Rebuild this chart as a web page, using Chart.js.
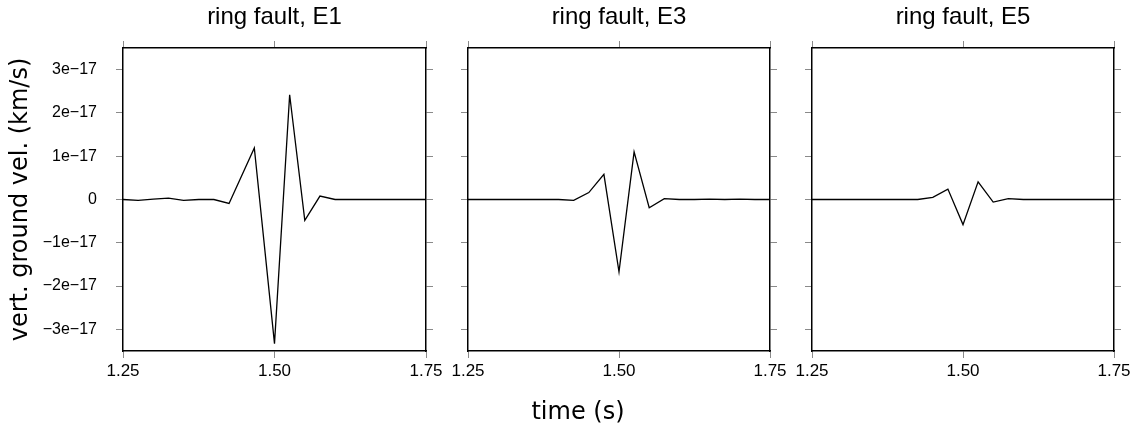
<!DOCTYPE html>
<html>
<head>
<meta charset="utf-8">
<title>ring fault</title>
<script src="https://cdn.jsdelivr.net/npm/chart.js@4.4.1/dist/chart.umd.min.js"></script>
<style>
  body { margin: 0; background: #fff; }
  #wrap { position: relative; width: 1144px; height: 425px; overflow: hidden; }
  #wrap canvas { position: absolute; top: 0; }
  #xlabel {
    position: absolute; left: 478px; top: 397px; width: 200px;
    text-align: center; line-height: 28px;
    font-family: "DejaVu Sans", sans-serif; font-size: 24px; color: #000;
  }
</style>
</head>
<body>
<div id="wrap">
  <canvas id="panelE1" width="450" height="425" style="left:0px"></canvas>
  <canvas id="panelE3" width="345" height="425" style="left:448px"></canvas>
  <canvas id="panelE5" width="352" height="425" style="left:792px"></canvas>
  <div id="xlabel">time (s)</div>
</div>
<script>
// tick positions
const xTicks = [1.25, 1.50, 1.75];
const yTicks = [-3e-17, -2e-17, -1e-17, 0, 1e-17, 2e-17, 3e-17];

// E1 trace
const timeE1 = [1.25, 1.275, 1.30, 1.325, 1.35, 1.375, 1.40, 1.425, 1.4667, 1.50, 1.525, 1.55, 1.575, 1.60, 1.625, 1.65, 1.675, 1.70, 1.725, 1.75];
const velE1 = [0, -0.02e-17, 0.01e-17, 0.03e-17, -0.02e-17, 0, 0, -0.09e-17, 1.19e-17, -3.33e-17, 2.42e-17, -0.48e-17, 0.08e-17, 0, 0, 0, 0, 0, 0, 0];

// E3 trace
const timeE3 = [1.25, 1.275, 1.30, 1.325, 1.35, 1.375, 1.40, 1.425, 1.45, 1.475, 1.50, 1.525, 1.55, 1.575, 1.60, 1.625, 1.65, 1.675, 1.70, 1.725, 1.75];
const velE3 = [0, 0, 0, 0, 0, 0, 0, -0.02e-17, 0.16e-17, 0.58e-17, -1.67e-17, 1.10e-17, -0.19e-17, 0.02e-17, 0, 0, 0.01e-17, 0, 0.01e-17, 0, 0];

// E5 trace
const timeE5 = [1.25, 1.275, 1.30, 1.325, 1.35, 1.375, 1.40, 1.425, 1.45, 1.475, 1.50, 1.525, 1.55, 1.575, 1.60, 1.625, 1.65, 1.675, 1.70, 1.725, 1.75];
const velE5 = [0, 0, 0, 0, 0, 0, 0, 0, 0.05e-17, 0.24e-17, -0.58e-17, 0.41e-17, -0.06e-17, 0.02e-17, 0, 0, 0, 0, 0, 0, 0];

Chart.defaults.font.family = '"Liberation Sans", Arial, sans-serif';
Chart.defaults.color = '#000';

function fmtVel(v) {
    const n = Math.round(v / 1e-17);
    if (n === 0) return '0';
    return (n < 0 ? '\u2212' : '') + Math.abs(n) + 'e\u221217';
}

// tick marks only, outside the frame
const tickGrid = { display: true, drawOnChartArea: false, drawTicks: true, tickLength: 7, color: '#8a8a8a', lineWidth: 1 };
const frame = { display: true, color: '#000', width: 1.5 };

function xScale(position, showLabels, size, extra) {
    return Object.assign({
        type: 'linear',
        position: position,
        min: 1.25,
        max: 1.75,
        grid: tickGrid,
        border: frame,
        afterBuildTicks: (axis) => { axis.ticks = xTicks.map(v => ({ value: v })); },
        afterFit: (axis) => { axis.height = size; },
        ticks: {
            display: showLabels,
            autoSkip: false,
            maxRotation: 0,
            padding: 3,
            font: { size: 17 },
            callback: (v) => Number(v).toFixed(2)
        }
    }, extra || {});
}

function yScale(position, showLabels, size, extra) {
    return Object.assign({
        type: 'linear',
        position: position,
        min: -3.5e-17,
        max: 3.5e-17,
        grid: tickGrid,
        border: frame,
        afterBuildTicks: (axis) => { axis.ticks = yTicks.map(v => ({ value: v })); },
        afterFit: (axis) => { axis.width = size; },
        ticks: {
            display: showLabels,
            padding: 19,
            font: { size: 16 },
            callback: (v) => fmtVel(v)
        }
    }, extra || {});
}

function drawPanel(canvasId, title, times, vel, leftWidth, padRight, withYTitle) {
    const points = times.map((t, i) => ({ x: t, y: vel[i] }));

    new Chart(document.getElementById(canvasId), {
        type: 'line',
        data: {
            datasets: [{
                data: points,
                borderColor: '#000',
                borderWidth: 1.3,
                pointRadius: 0,
                tension: 0,
                fill: false
            }]
        },
        options: {
            responsive: false,
            animation: false,
            layout: { padding: { left: 0, right: padRight, top: 0, bottom: 0 } },
            scales: {
                x: xScale('bottom', true, 74),
                x2: xScale('top', false, 48, {
                    title: {
                        display: true,
                        text: title,
                        font: { size: 24 },
                        padding: { top: 3, bottom: 0 }
                    }
                }),
                y: yScale('left', withYTitle, leftWidth, withYTitle ? {
                    title: {
                        display: true,
                        text: 'vert. ground vel. (km/s)',
                        font: { family: '"DejaVu Sans", sans-serif', size: 24 },
                        padding: { top: 6, bottom: 0 }
                    }
                } : {}),
                y2: yScale('right', false, 7)
            },
            plugins: {
                legend: { display: false },
                tooltip: { enabled: false }
            }
        }
    });
}

drawPanel('panelE1', 'ring fault, E1', timeE1, velE1, 123, 17, true);
drawPanel('panelE3', 'ring fault, E3', timeE3, velE3, 20, 16, false);
drawPanel('panelE5', 'ring fault, E5', timeE5, velE5, 20, 23, false);
</script>
</body>
</html>
